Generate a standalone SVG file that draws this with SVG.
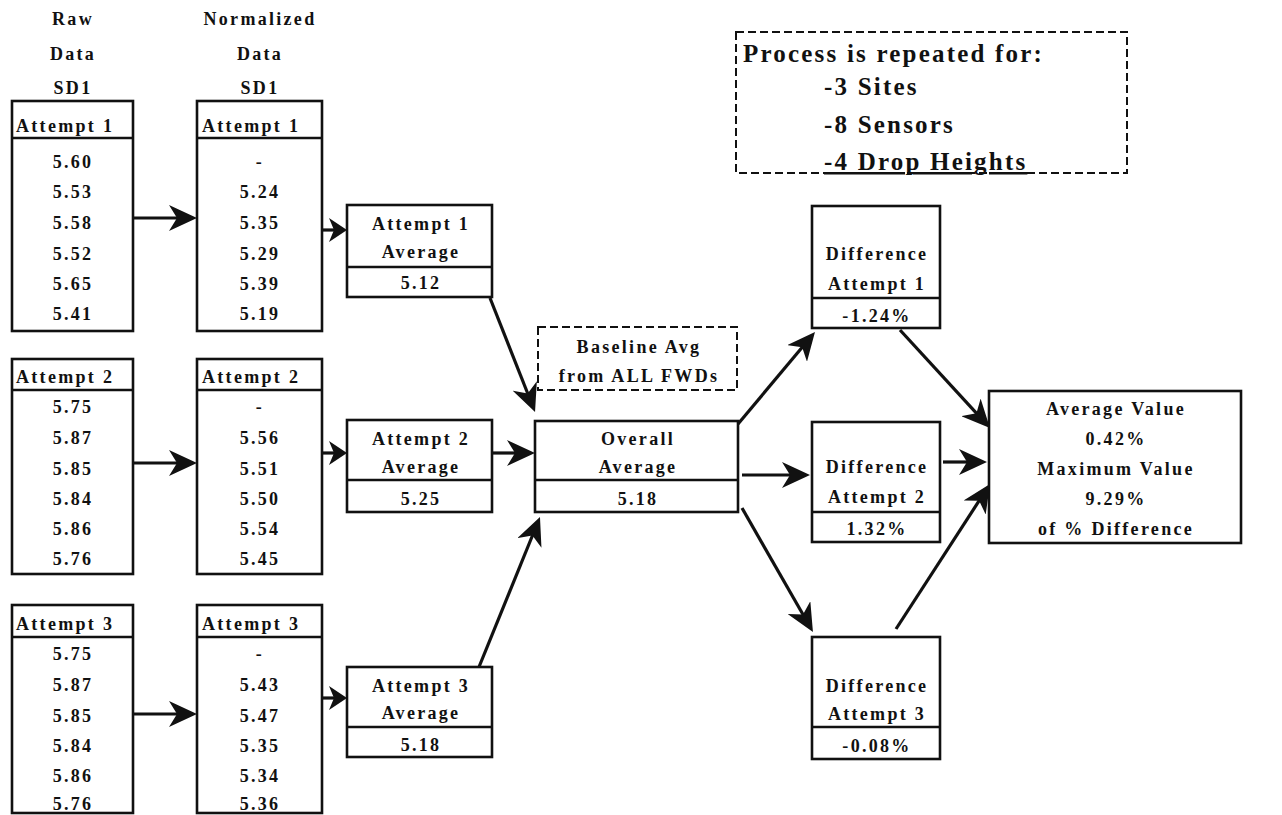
<svg xmlns="http://www.w3.org/2000/svg" width="1282" height="815" viewBox="0 0 1282 815">
<style>
text{font-family:"Liberation Serif","Times New Roman",serif;font-weight:bold;font-size:18px;letter-spacing:2.3px;fill:#111}
.c{text-anchor:middle}
.box{fill:#fff;stroke:#111;stroke-width:2.6}
.dash{fill:none;stroke:#111;stroke-width:2;stroke-dasharray:8,4}
.div{stroke:#111;stroke-width:2.6}
.big{font-size:25px;letter-spacing:2.2px}
.con line{stroke:#111;stroke-width:3.2;marker-end:url(#ah)}
.con line.s{marker-end:url(#ahs)}
</style>
<defs>
<marker id="ah" markerUnits="userSpaceOnUse" viewBox="0 0 28 26" markerWidth="28" markerHeight="26" refX="14" refY="13" orient="auto">
<path d="M0,0 L28,13 L0,26 L8,13 Z" fill="#111"/>
</marker>
<marker id="ahs" markerUnits="userSpaceOnUse" viewBox="0 0 18 24" markerWidth="18" markerHeight="24" refX="8" refY="12" orient="auto">
<path d="M0,0 L18,12 L0,24 L5,12 Z" fill="#111"/>
</marker>
</defs>
<rect width="1282" height="815" fill="#fff"/>

<g id="hdr-raw">
<text class="c" x="73" y="25">Raw</text>
<text class="c" x="73" y="60">Data</text>
<text class="c" x="73" y="94">SD1</text>
</g>
<g id="hdr-norm">
<text class="c" x="260" y="25">Normalized</text>
<text class="c" x="260" y="60">Data</text>
<text class="c" x="260" y="94">SD1</text>
</g>

<g id="raw1">
<rect class="box" x="12" y="101" width="121" height="230"/>
<line class="div" x1="12" y1="138" x2="133" y2="138"/>
<text x="16" y="132">Attempt 1</text>
<text class="c" x="73" y="168">5.60</text>
<text class="c" x="73" y="198">5.53</text>
<text class="c" x="73" y="229">5.58</text>
<text class="c" x="73" y="260">5.52</text>
<text class="c" x="73" y="290">5.65</text>
<text class="c" x="73" y="320">5.41</text>
</g>
<g id="norm1">
<rect class="box" x="197" y="101" width="125" height="230"/>
<line class="div" x1="197" y1="138" x2="322" y2="138"/>
<text x="202" y="132">Attempt 1</text>
<text class="c" x="260" y="168">-</text>
<text class="c" x="260" y="198">5.24</text>
<text class="c" x="260" y="229">5.35</text>
<text class="c" x="260" y="260">5.29</text>
<text class="c" x="260" y="290">5.39</text>
<text class="c" x="260" y="320">5.19</text>
</g>

<g id="raw2">
<rect class="box" x="12" y="359" width="121" height="215"/>
<line class="div" x1="12" y1="390" x2="133" y2="390"/>
<text x="16" y="383">Attempt 2</text>
<text class="c" x="73" y="413">5.75</text>
<text class="c" x="73" y="444">5.87</text>
<text class="c" x="73" y="475">5.85</text>
<text class="c" x="73" y="505">5.84</text>
<text class="c" x="73" y="535">5.86</text>
<text class="c" x="73" y="565">5.76</text>
</g>
<g id="norm2">
<rect class="box" x="197" y="359" width="125" height="215"/>
<line class="div" x1="197" y1="390" x2="322" y2="390"/>
<text x="202" y="383">Attempt 2</text>
<text class="c" x="260" y="413">-</text>
<text class="c" x="260" y="444">5.56</text>
<text class="c" x="260" y="475">5.51</text>
<text class="c" x="260" y="505">5.50</text>
<text class="c" x="260" y="535">5.54</text>
<text class="c" x="260" y="565">5.45</text>
</g>

<g id="raw3">
<rect class="box" x="12" y="605" width="121" height="208"/>
<line class="div" x1="12" y1="637" x2="133" y2="637"/>
<text x="16" y="630">Attempt 3</text>
<text class="c" x="73" y="660">5.75</text>
<text class="c" x="73" y="691">5.87</text>
<text class="c" x="73" y="722">5.85</text>
<text class="c" x="73" y="752">5.84</text>
<text class="c" x="73" y="782">5.86</text>
<text class="c" x="73" y="810">5.76</text>
</g>
<g id="norm3">
<rect class="box" x="197" y="605" width="125" height="208"/>
<line class="div" x1="197" y1="637" x2="322" y2="637"/>
<text x="202" y="630">Attempt 3</text>
<text class="c" x="260" y="660">-</text>
<text class="c" x="260" y="691">5.43</text>
<text class="c" x="260" y="722">5.47</text>
<text class="c" x="260" y="752">5.35</text>
<text class="c" x="260" y="782">5.34</text>
<text class="c" x="260" y="810">5.36</text>
</g>

<g id="avg1">
<rect class="box" x="347" y="205" width="145" height="92"/>
<line class="div" x1="347" y1="267" x2="492" y2="267"/>
<text class="c" x="421" y="230">Attempt 1</text>
<text class="c" x="421" y="258">Average</text>
<text class="c" x="421" y="289">5.12</text>
</g>
<g id="avg2">
<rect class="box" x="347" y="420" width="145" height="92"/>
<line class="div" x1="347" y1="480" x2="492" y2="480"/>
<text class="c" x="421" y="445">Attempt 2</text>
<text class="c" x="421" y="473">Average</text>
<text class="c" x="421" y="505">5.25</text>
</g>
<g id="avg3">
<rect class="box" x="347" y="667" width="145" height="90"/>
<line class="div" x1="347" y1="727" x2="492" y2="727"/>
<text class="c" x="421" y="692">Attempt 3</text>
<text class="c" x="421" y="719">Average</text>
<text class="c" x="421" y="751">5.18</text>
</g>

<g id="baseline">
<rect class="dash" x="538" y="327" width="199" height="63"/>
<text class="c" x="639" y="353">Baseline Avg</text>
<text class="c" x="639" y="382">from ALL FWDs</text>
</g>

<g id="overall">
<rect class="box" x="535" y="421" width="203" height="91"/>
<line class="div" x1="535" y1="480" x2="738" y2="480"/>
<text class="c" x="638" y="445">Overall</text>
<text class="c" x="638" y="473">Average</text>
<text class="c" x="638" y="505">5.18</text>
</g>

<g id="process">
<rect class="dash" x="736" y="32" width="391" height="141"/>
<text class="big" x="743" y="62">Process is repeated for:</text>
<text class="big" x="824" y="95">-3 Sites</text>
<text class="big" x="824" y="133">-8 Sensors</text>
<text class="big" x="824" y="170" text-decoration="underline">-4 Drop Heights</text>
</g>

<g id="diff1">
<rect class="box" x="812" y="206" width="128" height="122"/>
<line class="div" x1="812" y1="298" x2="940" y2="298"/>
<text class="c" x="877" y="260">Difference</text>
<text class="c" x="877" y="290">Attempt 1</text>
<text class="c" x="877" y="322">-1.24%</text>
</g>
<g id="diff2">
<rect class="box" x="812" y="422" width="128" height="120"/>
<line class="div" x1="812" y1="512" x2="940" y2="512"/>
<text class="c" x="877" y="473">Difference</text>
<text class="c" x="877" y="503">Attempt 2</text>
<text class="c" x="877" y="535">1.32%</text>
</g>
<g id="diff3">
<rect class="box" x="812" y="637" width="128" height="122"/>
<line class="div" x1="812" y1="727" x2="940" y2="727"/>
<text class="c" x="877" y="692">Difference</text>
<text class="c" x="877" y="720">Attempt 3</text>
<text class="c" x="877" y="752">-0.08%</text>
</g>

<g id="final">
<rect class="box" x="989" y="391" width="252" height="152"/>
<text class="c" x="1116" y="415">Average Value</text>
<text class="c" x="1116" y="445">0.42%</text>
<text class="c" x="1116" y="475">Maximum Value</text>
<text class="c" x="1116" y="505">9.29%</text>
<text class="c" x="1116" y="535">of % Difference</text>
</g>

<g id="connectors" class="con">
<line x1="133" y1="218" x2="183" y2="218"/>
<line x1="133" y1="463" x2="183" y2="463"/>
<line x1="133" y1="714" x2="183" y2="714"/>
<line class="s" x1="322" y1="230" x2="337" y2="230"/>
<line class="s" x1="322" y1="453" x2="337" y2="453"/>
<line class="s" x1="322" y1="698" x2="337" y2="698"/>
<line x1="490" y1="298" x2="529.9" y2="399"/>
<line x1="493" y1="453" x2="521" y2="453"/>
<line x1="479" y1="667" x2="534.7" y2="530"/>
<line x1="738" y1="424" x2="806" y2="342.7"/>
<line x1="742" y1="475" x2="796" y2="475"/>
<line x1="742" y1="508" x2="806" y2="619.8"/>
<line x1="900" y1="330" x2="980.5" y2="417.7"/>
<line x1="943" y1="462" x2="973" y2="462"/>
<line x1="896" y1="629" x2="982.4" y2="495.7"/>
</g>
</svg>
